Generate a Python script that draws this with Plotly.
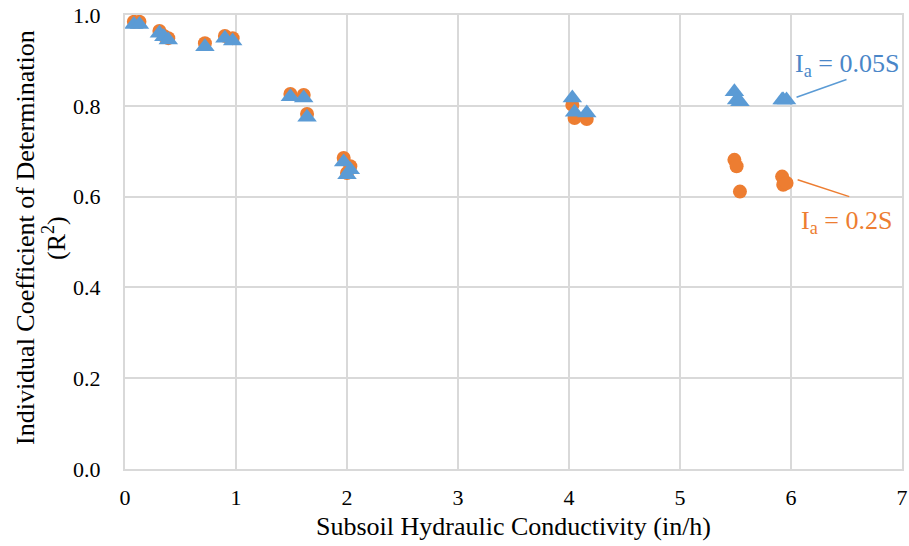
import plotly.graph_objects as go

# Subsoil hydraulic conductivity (in/h) for each site
conductivity = [0.08, 0.13, 0.31, 0.35, 0.39, 0.72, 0.90, 0.97, 1.49, 1.61, 1.64,
                1.97, 2.00, 2.03, 4.03, 4.05, 4.16, 5.49, 5.51, 5.54, 5.92, 5.93, 5.96]
# Individual R^2, Ia = 0.2S
r2_ia_02 = [0.985, 0.985, 0.965, 0.954, 0.949, 0.938, 0.954, 0.949, 0.826, 0.824, 0.782,
            0.685, 0.652, 0.667, 0.802, 0.773, 0.771, 0.681, 0.667, 0.611, 0.644, 0.626, 0.630]
# Individual R^2, Ia = 0.05S
r2_ia_005 = [0.979, 0.979, 0.960, 0.952, 0.945, 0.930, 0.949, 0.943, 0.820, 0.817, 0.775,
             0.676, 0.648, 0.659, 0.817, 0.786, 0.784, 0.831, 0.813, 0.809, 0.813, 0.813, 0.813]

x_ticks = [0, 1, 2, 3, 4, 5, 6, 7]
y_ticks = [0.0, 0.2, 0.4, 0.6, 0.8, 1.0]

ORANGE = "#ED7D31"
BLUE = "#5B9BD5"
FONT = "Liberation Serif"

fig = go.Figure()
fig.add_trace(go.Scatter(x=conductivity, y=r2_ia_02, mode="markers", name="Ia = 0.2S",
                         marker=dict(symbol="circle", size=14, color=ORANGE)))
fig.add_trace(go.Scatter(x=conductivity, y=r2_ia_005, mode="markers", name="Ia = 0.05S",
                         marker=dict(symbol="triangle-up", size=17, color=BLUE)))

W, H = 909, 546
L, R, T, B = 125, 7, 15, 77
pw, ph = W - L - R, H - T - B

def px(xp):
    return (xp - L) / pw

def py(yp):
    return (H - B - yp) / ph

fig.update_layout(
    width=W, height=H,
    margin=dict(l=L, r=R, t=T, b=B, autoexpand=False),
    paper_bgcolor="white", plot_bgcolor="white",
    showlegend=False,
    font=dict(family=FONT, color="#000000", size=22),
)
fig.update_xaxes(range=[0, 7], tickvals=x_ticks, showgrid=True, gridcolor="#D9D9D9", gridwidth=2,
                 zeroline=False, showline=True, linecolor="#D9D9D9", linewidth=2, mirror=True,
                 ticks="", tickfont=dict(family=FONT, size=22, color="#000000"),
                 ticklabelstandoff=8, automargin=False, ticklabeloverflow="allow")
fig.update_yaxes(range=[0, 1.0], tickvals=y_ticks, tickformat=".1f", showgrid=True,
                 gridcolor="#D9D9D9", gridwidth=2, zeroline=False, showline=True,
                 linecolor="#D9D9D9", linewidth=2, mirror=True, ticks="",
                 tickfont=dict(family=FONT, size=22, color="#000000"),
                 ticklabelstandoff=18, automargin=False, ticklabeloverflow="allow")

annotations = [
    dict(text="Subsoil Hydraulic Conductivity (in/h)", xref="paper", yref="paper",
         x=0.5, y=py(526), xanchor="center", yanchor="middle", showarrow=False,
         font=dict(family=FONT, size=26, color="#000000")),
    dict(text="Individual Coefficient of Determination", xref="paper", yref="paper",
         x=px(25), y=py(238), xanchor="center", yanchor="middle", textangle=-90,
         showarrow=False, font=dict(family=FONT, size=26, color="#000000")),
    dict(text="(R<sup>2</sup>)", xref="paper", yref="paper",
         x=px(54), y=py(238), xanchor="center", yanchor="middle", textangle=-90,
         showarrow=False, font=dict(family=FONT, size=26, color="#000000")),
    dict(text="I<sub>a</sub> = 0.05S", xref="x", yref="y", x=6.5, y=0.89,
         xanchor="center", yanchor="middle", showarrow=False,
         font=dict(family=FONT, size=26, color="#4A86C8")),
    dict(text="I<sub>a</sub> = 0.2S", xref="x", yref="y", x=6.5, y=0.545,
         xanchor="center", yanchor="middle", showarrow=False,
         font=dict(family=FONT, size=26, color=ORANGE)),
]
fig.update_layout(annotations=annotations)

fig.add_shape(type="line", xref="x", yref="y", x0=6.05, y0=0.819, x1=6.50, y1=0.858,
              line=dict(color=BLUE, width=1.5))
fig.add_shape(type="line", xref="x", yref="y", x0=6.06, y0=0.637, x1=6.525, y1=0.600,
              line=dict(color=ORANGE, width=1.5))

fig.write_html("out.html", config={"displayModeBar": False},
               post_script="document.body.style.margin='0';")
